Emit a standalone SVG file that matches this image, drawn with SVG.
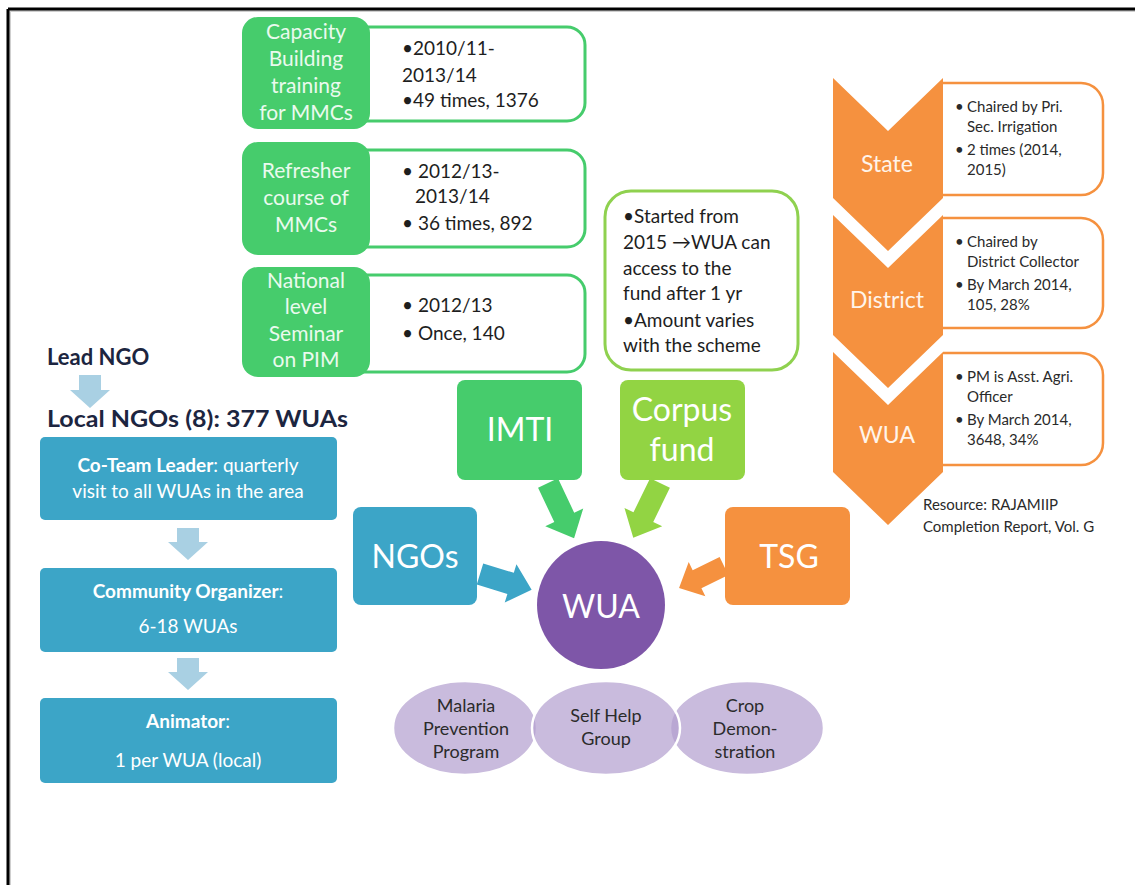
<svg xmlns="http://www.w3.org/2000/svg" width="1135" height="885" viewBox="0 0 1135 885">
  <style>
    text { font-family: Lato, "Open Sans", "Liberation Sans", sans-serif; }
    .gfill { fill: #46cc6c; }
    .gout { fill: #ffffff; stroke: #46cc6c; stroke-width: 3; }
    .glabel { fill: #eafaee; font-size: 21px; text-anchor: middle; }
    .note { fill: #1e1e1e; font-size: 19px; }
    .orange { fill: #f5913f; }
    .oout { fill: #ffffff; stroke: #f5913f; stroke-width: 2.5; }
    .olabel { fill: #fff4ea; font-size: 23px; text-anchor: middle; }
    .osmall { fill: #2a2a2a; font-size: 15px; }
    .teal { fill: #3ca5c7; }
    .tlabel { fill: #ffffff; font-size: 19px; text-anchor: middle; }
    .big { fill: #ffffff; font-size: 32px; text-anchor: middle; }
    .down { fill: #a9d0e3; }
    .ell { fill: #b29ece; fill-opacity: 0.7; stroke: #ffffff; stroke-width: 2.5; }
    .elabel { fill: #2b2b2b; font-size: 18px; text-anchor: middle; }
    .head { fill: #1c2540; font-size: 22px; font-weight: bold; }
  </style>

  <!-- page frame -->
  <g id="frame">
    <path d="M10 11 H1135 M10 11 V885" fill="none" stroke="#cfcfcf" stroke-width="2"/>
    <path d="M8 9 H1135 M8 9 V885" fill="none" stroke="#000000" stroke-width="3"/>
  </g>

  <!-- training programmes -->
  <g id="capacity-building">
    <rect class="gout" x="340" y="27" width="245" height="94" rx="18"/>
    <rect class="gfill" x="242" y="17" width="128" height="112" rx="16"/>
    <text class="glabel" x="306" y="39">Capacity</text>
    <text class="glabel" x="306" y="66">Building</text>
    <text class="glabel" x="306" y="93">training</text>
    <text class="glabel" x="306" y="120">for MMCs</text>
    <text class="note" x="402" y="55">•2010/11-</text>
    <text class="note" x="402" y="82">2013/14</text>
    <text class="note" x="402" y="107">•49 times, 1376</text>
  </g>

  <g id="refresher-course">
    <rect class="gout" x="340" y="150" width="245" height="97" rx="18"/>
    <rect class="gfill" x="242" y="142" width="128" height="113" rx="16"/>
    <text class="glabel" x="306" y="178">Refresher</text>
    <text class="glabel" x="306" y="205">course of</text>
    <text class="glabel" x="306" y="232">MMCs</text>
    <text class="note" x="402" y="178">• 2012/13-</text>
    <text class="note" x="415" y="203">2013/14</text>
    <text class="note" x="402" y="230">• 36 times, 892</text>
  </g>

  <g id="national-seminar">
    <rect class="gout" x="340" y="275" width="245" height="97" rx="18"/>
    <rect class="gfill" x="242" y="267" width="128" height="110" rx="16"/>
    <text class="glabel" x="306" y="288">National</text>
    <text class="glabel" x="306" y="314">level</text>
    <text class="glabel" x="306" y="341">Seminar</text>
    <text class="glabel" x="306" y="367">on PIM</text>
    <text class="note" x="402" y="312">• 2012/13</text>
    <text class="note" x="402" y="340">• Once, 140</text>
  </g>

  <!-- corpus fund note -->
  <g id="corpus-note">
    <rect x="605" y="191" width="193" height="179" rx="26" fill="#ffffff" stroke="#8fd14f" stroke-width="3"/>
    <text class="note" x="623" y="223">•Started from</text>
    <text class="note" x="623" y="249">2015 →WUA can</text>
    <text class="note" x="623" y="275">access to the</text>
    <text class="note" x="623" y="300">fund after 1 yr</text>
    <text class="note" x="623" y="327">•Amount varies</text>
    <text class="note" x="623" y="352">with the scheme</text>
  </g>

  <!-- committee levels: detail panels are open on the left, where they meet the chevrons -->
  <g id="level-state">
    <path class="oout" d="M943 83 H1081 A22 22 0 0 1 1103 105 V173 A22 22 0 0 1 1081 195 H943"/>
    <polygon class="orange" points="833,78 888,131 943,78 943,198 888,251 833,198"/>
    <text class="olabel" x="887" y="172">State</text>
    <text class="osmall" x="955" y="112">•</text>
    <text class="osmall" x="967" y="112">Chaired by Pri.</text>
    <text class="osmall" x="967" y="132">Sec. Irrigation</text>
    <text class="osmall" x="955" y="155">•</text>
    <text class="osmall" x="967" y="155">2 times (2014,</text>
    <text class="osmall" x="967" y="175">2015)</text>
  </g>

  <g id="level-district">
    <path class="oout" d="M943 218 H1081 A22 22 0 0 1 1103 240 V306 A22 22 0 0 1 1081 328 H943"/>
    <polygon class="orange" points="833,215 888,268 943,215 943,335 888,388 833,335"/>
    <text class="olabel" x="887" y="308">District</text>
    <text class="osmall" x="955" y="247">•</text>
    <text class="osmall" x="967" y="247">Chaired by</text>
    <text class="osmall" x="967" y="267">District Collector</text>
    <text class="osmall" x="955" y="290">•</text>
    <text class="osmall" x="967" y="290">By March  2014,</text>
    <text class="osmall" x="967" y="310">105,  28%</text>
  </g>

  <g id="level-wua">
    <path class="oout" d="M943 353 H1081 A22 22 0 0 1 1103 375 V443 A22 22 0 0 1 1081 465 H943"/>
    <polygon class="orange" points="833,352 888,405 943,352 943,472 888,525 833,472"/>
    <text class="olabel" x="887" y="443">WUA</text>
    <text class="osmall" x="955" y="382">•</text>
    <text class="osmall" x="967" y="382">PM is Asst. Agri.</text>
    <text class="osmall" x="967" y="402">Officer</text>
    <text class="osmall" x="955" y="425">•</text>
    <text class="osmall" x="967" y="425">By March  2014,</text>
    <text class="osmall" x="967" y="445">3648, 34%</text>
  </g>

  <g id="resource-note">
    <text class="osmall" x="923" y="510">Resource: RAJAMIIP</text>
    <text class="osmall" x="923" y="532">Completion  Report, Vol. G</text>
  </g>

  <!-- NGO hierarchy -->
  <g id="lead-ngo">
    <text class="head" x="47" y="365">Lead NGO</text>
  </g>
  <g id="local-ngos">
    <text class="head" x="47" y="427" font-size="23" textLength="301" lengthAdjust="spacingAndGlyphs">Local NGOs (8): 377 WUAs</text>
  </g>
  <g id="co-team-leader">
    <rect class="teal" x="40" y="437" width="297" height="83" rx="5"/>
    <text class="tlabel" x="188" y="472"><tspan font-weight="bold">Co-Team  Leader</tspan>: quarterly</text>
    <text class="tlabel" x="188" y="498">visit to all WUAs in the area</text>
  </g>
  <g id="community-organizer">
    <rect class="teal" x="40" y="568" width="297" height="84" rx="5"/>
    <text class="tlabel" x="188" y="598"><tspan font-weight="bold">Community  Organizer</tspan>:</text>
    <text class="tlabel" x="188" y="633">6-18 WUAs</text>
  </g>
  <g id="animator">
    <rect class="teal" x="40" y="698" width="297" height="85" rx="5"/>
    <text class="tlabel" x="188" y="728"><tspan font-weight="bold">Animator</tspan>:</text>
    <text class="tlabel" x="188" y="767">1 per WUA (local)</text>
  </g>

  <!-- supporting bodies around the WUA -->
  <g id="imti">
    <rect x="457" y="380" width="125" height="100" rx="8" fill="#46cc6c"/>
    <text class="big" x="520" y="441">IMTI</text>
  </g>
  <g id="corpus-fund">
    <rect x="620" y="380" width="125" height="100" rx="8" fill="#92d443"/>
    <text class="big" x="682" y="421">Corpus</text>
    <text class="big" x="682" y="461">fund</text>
  </g>
  <g id="ngos">
    <rect x="353" y="507" width="124" height="98" rx="8" fill="#3ca5c7"/>
    <text class="big" x="415" y="568">NGOs</text>
  </g>
  <g id="tsg">
    <rect x="725" y="507" width="125" height="98" rx="8" fill="#f5913f"/>
    <text class="big" x="789" y="568">TSG</text>
  </g>

  <!-- connectors -->
  <g id="connectors">
    <path class="down" d="M79 375 H101 V390 H110 L90 408 L70 390 H79 Z"/>
    <path class="down" d="M177 528 H199 V542 H208 L188 560 L168 542 H177 Z"/>
    <path class="down" d="M177 658 H199 V672 H208 L188 690 L168 672 H177 Z"/>
    <!-- block arrows: local +x direction, then rotated into place -->
    <path transform="translate(548 483) rotate(64.7)" d="M0 -11 H38 V-21 L61 0 L38 21 V11 H0 Z" fill="#46cc6c"/>
    <path transform="translate(660 483) rotate(116)" d="M0 -11 H38 V-21 L61 0 L38 21 V11 H0 Z" fill="#92d443"/>
    <path transform="translate(480 574) rotate(17)" d="M0 -11 H32 V-20 L54 0 L32 20 V11 H0 Z" fill="#3ca5c7"/>
    <path transform="translate(724 566) rotate(154)" d="M0 -10 H30 V-19 L50 0 L30 19 V10 H0 Z" fill="#f5913f"/>
  </g>

  <g id="wua">
    <circle cx="601" cy="605" r="64" fill="#7e56a8"/>
    <text class="big" x="601" y="618" font-size="37">WUA</text>
  </g>

  <!-- WUA activities -->
  <g id="activities">
    <ellipse class="ell" cx="465" cy="728" rx="72" ry="47"/>
    <ellipse class="ell" cx="747" cy="728" rx="77" ry="47"/>
    <ellipse class="ell" cx="606" cy="728" rx="74" ry="47"/>
  </g>
  <g id="malaria-prevention">
    <text class="elabel" x="466" y="712">Malaria</text>
    <text class="elabel" x="466" y="735">Prevention</text>
    <text class="elabel" x="466" y="758">Program</text>
  </g>
  <g id="self-help-group">
    <text class="elabel" x="606" y="722">Self Help</text>
    <text class="elabel" x="606" y="745">Group</text>
  </g>
  <g id="crop-demonstration">
    <text class="elabel" x="745" y="712">Crop</text>
    <text class="elabel" x="745" y="735">Demon-</text>
    <text class="elabel" x="745" y="758">stration</text>
  </g>
</svg>
